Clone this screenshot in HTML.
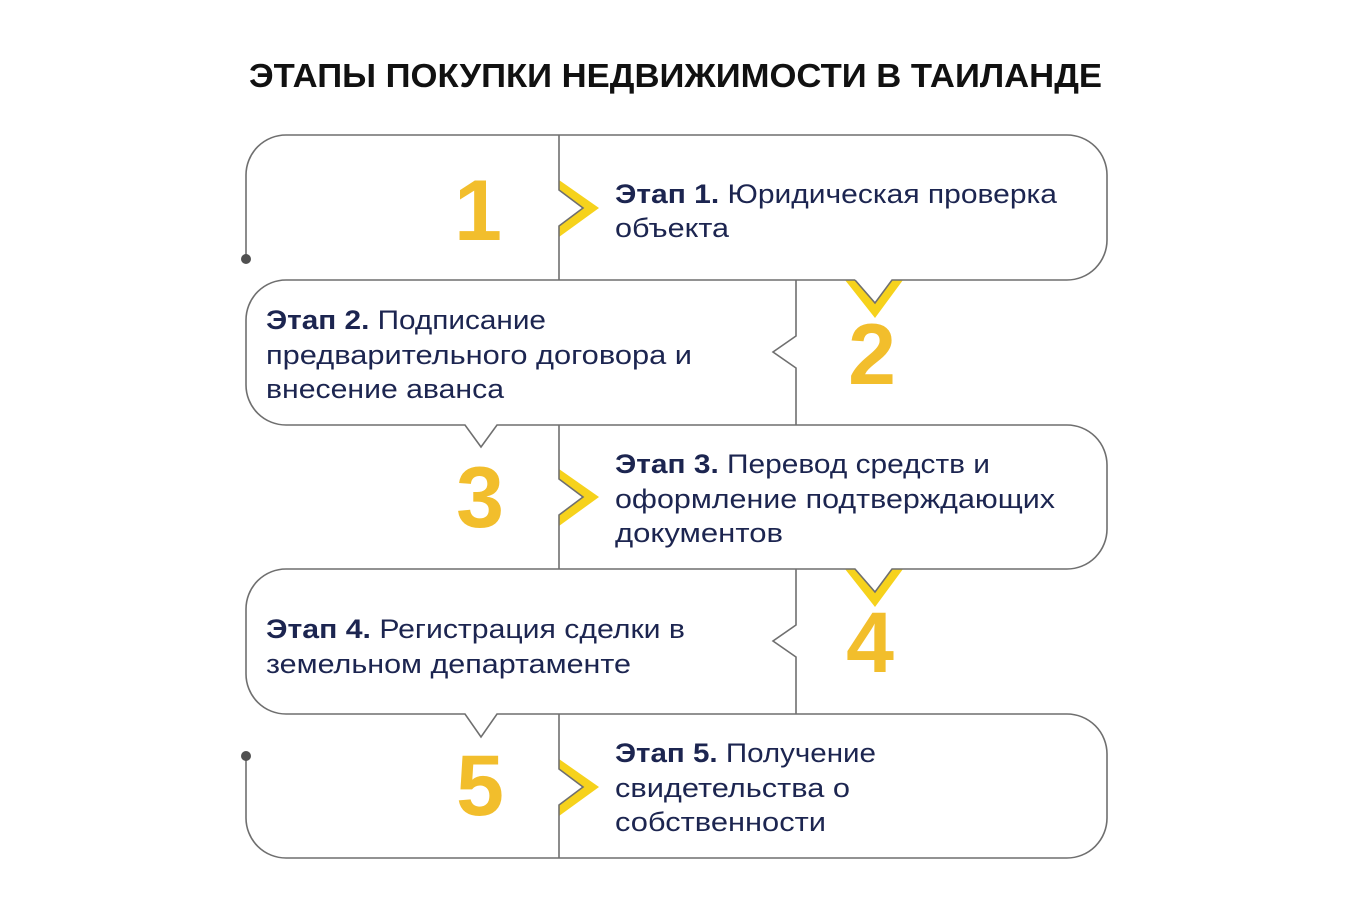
<!DOCTYPE html>
<html><head><meta charset="utf-8"><style>
html,body{margin:0;padding:0;background:#fff;}
svg{display:block;}
text{font-family:"Liberation Sans","DejaVu Sans",sans-serif;}
.t{font-size:27px;fill:#1c2550;}
.b{font-weight:bold;}
.n{font-size:86px;font-weight:bold;fill:#F2BE2C;}
</style></head><body>
<svg width="1350" height="915" viewBox="0 0 1350 915" xmlns="http://www.w3.org/2000/svg">
<text x="249" y="87" textLength="853" lengthAdjust="spacingAndGlyphs" font-size="33" font-weight="bold" fill="#111">ЭТАПЫ ПОКУПКИ НЕДВИЖИМОСТИ В ТАИЛАНДЕ</text>

<g fill="#F6D21C" stroke="none">
<polygon points="559,180 599,208 559,237 559,226 583,208 559,190"/>
<polygon points="559,469 599,497 559,526 559,515 583,497 559,479"/>
<polygon points="559,759 599,787 559,816 559,805 583,787 559,769"/>
<polygon points="845,280 875,318 903,280 892,280 875,303 855,280"/>
<polygon points="845,569 875,607 903,569 892,569 875,592 855,569"/>
</g>

<g fill="none" stroke="#6f6f6f" stroke-width="1.6">
<path d="M246,259 V175 A40,40 0 0 1 286,135 H1067 A40,40 0 0 1 1107,175 V240 A40,40 0 0 1 1067,280 H892 L875,303 L855,280"/>
<path d="M559,135 V190 L583,208 L559,226 V280"/>
<path d="M855,280 H286 A40,40 0 0 0 246,320 V385 A40,40 0 0 0 286,425 H465 L481,447 L497,425 H1067 A40,40 0 0 1 1107,465 V529 A40,40 0 0 1 1067,569 H892 L875,592 L855,569 H286 A40,40 0 0 0 246,609 V674 A40,40 0 0 0 286,714 H465 L481,737 L497,714 H1067 A40,40 0 0 1 1107,754 V818 A40,40 0 0 1 1067,858 H286 A40,40 0 0 1 246,818 V756"/>
<path d="M796,280 V336 L773,352 L796,368 V425"/>
<path d="M559,425 V479 L583,497 L559,515 V569"/>
<path d="M796,569 V625 L773,641 L796,657 V714"/>
<path d="M559,714 V769 L583,787 L559,805 V858"/>
</g>
<circle cx="246" cy="259" r="5" fill="#505050"/>
<circle cx="246" cy="756" r="5" fill="#505050"/>

<text class="n" x="478" y="240" text-anchor="middle">1</text>
<text class="n" x="872" y="384" text-anchor="middle">2</text>
<text class="n" x="480" y="527" text-anchor="middle">3</text>
<text class="n" x="870" y="672" text-anchor="middle">4</text>
<text class="n" x="480" y="815" text-anchor="middle">5</text>

<text class="t" x="615" y="203" textLength="442" lengthAdjust="spacingAndGlyphs"><tspan class="b">Этап 1.</tspan> Юридическая проверка</text>
<text class="t" x="615" y="237" textLength="114" lengthAdjust="spacingAndGlyphs">объекта</text>

<text class="t" x="266" y="329" textLength="280" lengthAdjust="spacingAndGlyphs"><tspan class="b">Этап 2.</tspan> Подписание</text>
<text class="t" x="266" y="364" textLength="426" lengthAdjust="spacingAndGlyphs">предварительного договора и</text>
<text class="t" x="266" y="398" textLength="238" lengthAdjust="spacingAndGlyphs">внесение аванса</text>

<text class="t" x="615" y="473" textLength="375" lengthAdjust="spacingAndGlyphs"><tspan class="b">Этап 3.</tspan> Перевод средств и</text>
<text class="t" x="615" y="508" textLength="440" lengthAdjust="spacingAndGlyphs">оформление подтверждающих</text>
<text class="t" x="615" y="542" textLength="168" lengthAdjust="spacingAndGlyphs">документов</text>

<text class="t" x="266" y="638" textLength="419" lengthAdjust="spacingAndGlyphs"><tspan class="b">Этап 4.</tspan> Регистрация сделки в</text>
<text class="t" x="266" y="673" textLength="365" lengthAdjust="spacingAndGlyphs">земельном департаменте</text>

<text class="t" x="615" y="762" textLength="261" lengthAdjust="spacingAndGlyphs"><tspan class="b">Этап 5.</tspan> Получение</text>
<text class="t" x="615" y="797" textLength="235" lengthAdjust="spacingAndGlyphs">свидетельства о</text>
<text class="t" x="615" y="831" textLength="211" lengthAdjust="spacingAndGlyphs">собственности</text>
</svg>
</body></html>
